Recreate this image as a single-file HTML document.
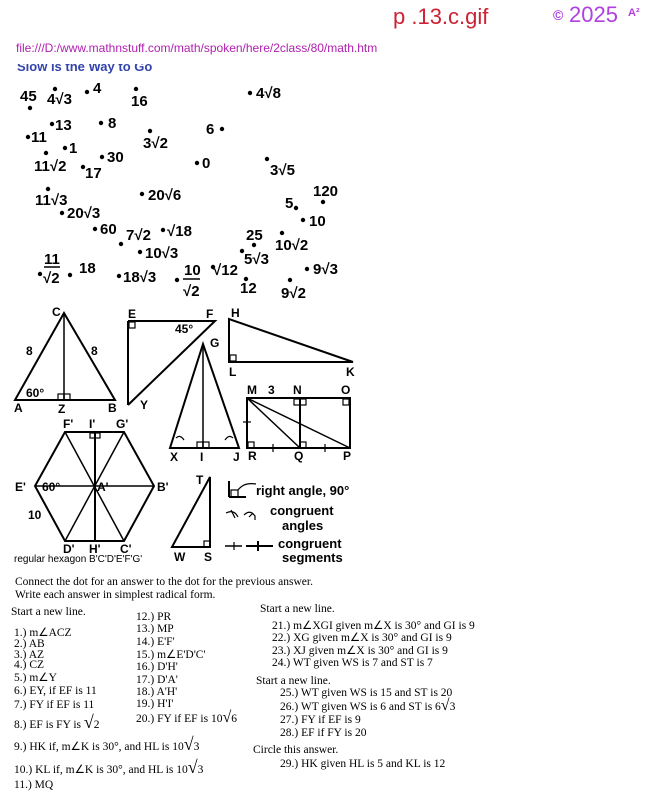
<!DOCTYPE html>
<html><head><meta charset="utf-8"><style>
html,body{margin:0;padding:0;background:#fff;width:650px;height:800px;overflow:hidden}
svg{display:block}
.d{font-family:"Liberation Sans",sans-serif;font-weight:bold;font-size:15px;fill:#000}
.s{font-family:"Liberation Serif",serif;font-size:11.5px;fill:#000;white-space:pre}
.g{font-family:"Liberation Sans",sans-serif;font-weight:bold;font-size:12px;fill:#000}
line,polyline,polygon,path,rect{stroke:#000;fill:none}
</style></head><body>
<svg width="650" height="800" viewBox="0 0 650 800">
<text x="393" y="24" font-family="Liberation Sans,sans-serif" font-size="22" fill="#cc2233">p .13.c.gif</text>
<text x="553" y="20" font-family="Liberation Sans,sans-serif" font-size="14" font-weight="bold" fill="#b040e0">©</text>
<text x="569" y="22" font-family="Liberation Sans,sans-serif" font-size="22" fill="#b040e0">2025</text>
<text x="628" y="16" font-family="Liberation Sans,sans-serif" font-size="11" font-weight="bold" fill="#b040e0">A²</text>
<text x="16" y="52" font-family="Liberation Sans,sans-serif" font-size="12" fill="#b020b0">file:///D:/www.mathnstuff.com/math/spoken/here/2class/80/math.htm</text>
<svg x="0" y="64" width="300" height="20" overflow="hidden"><text x="17" y="7" font-family="Liberation Sans,sans-serif" font-size="13" font-weight="bold" fill="#3344aa">Slow is the Way to Go</text></svg>

<g fill="#000">
<circle cx="30" cy="108" r="2.2"/><circle cx="55" cy="89" r="2.2"/><circle cx="87" cy="92" r="2.2"/><circle cx="136" cy="89" r="2.2"/><circle cx="250" cy="93" r="2.2"/>
<circle cx="52" cy="124" r="2.2"/><circle cx="101" cy="123" r="2.2"/><circle cx="28" cy="137" r="2.2"/><circle cx="150" cy="131" r="2.2"/><circle cx="222" cy="129" r="2.2"/>
<circle cx="65" cy="148" r="2.2"/><circle cx="46" cy="153" r="2.2"/><circle cx="102" cy="157" r="2.2"/><circle cx="83" cy="167" r="2.2"/><circle cx="197" cy="163" r="2.2"/><circle cx="267" cy="159" r="2.2"/>
<circle cx="142" cy="194" r="2.2"/><circle cx="323" cy="202" r="2.2"/><circle cx="48" cy="189" r="2.2"/><circle cx="296" cy="208" r="2.2"/><circle cx="62" cy="213" r="2.2"/><circle cx="303" cy="220" r="2.2"/>
<circle cx="95" cy="229" r="2.2"/><circle cx="121" cy="244" r="2.2"/><circle cx="163" cy="230" r="2.2"/><circle cx="254" cy="245" r="2.2"/><circle cx="282" cy="233" r="2.2"/><circle cx="140" cy="252" r="2.2"/><circle cx="242" cy="251" r="2.2"/>
<circle cx="40" cy="274" r="2.2"/><circle cx="70" cy="275" r="2.2"/><circle cx="119" cy="276" r="2.2"/><circle cx="177" cy="280" r="2.2"/><circle cx="213" cy="267" r="2.2"/><circle cx="246" cy="279" r="2.2"/><circle cx="307" cy="269" r="2.2"/><circle cx="290" cy="280" r="2.2"/>
</g>
<g class="d">
<text x="20" y="101">45</text><text x="47" y="104">4√3</text><text x="93" y="93">4</text><text x="131" y="106">16</text><text x="256" y="98">4√8</text>
<text x="55" y="130">13</text><text x="108" y="128">8</text><text x="31" y="142">11</text><text x="143" y="148">3√2</text><text x="206" y="134">6</text>
<text x="69" y="153">1</text><text x="34" y="171">11√2</text><text x="107" y="162">30</text><text x="85" y="178">17</text><text x="202" y="168">0</text><text x="270" y="175">3√5</text>
<text x="148" y="200">20√6</text><text x="313" y="196">120</text><text x="35" y="205">11√3</text><text x="285" y="208">5</text><text x="67" y="218">20√3</text><text x="309" y="226">10</text>
<text x="100" y="234">60</text><text x="126" y="240">7√2</text><text x="167" y="236">√18</text><text x="246" y="240">25</text><text x="275" y="250">10√2</text><text x="145" y="258">10√3</text><text x="244" y="264">5√3</text>
<text x="44" y="264">11</text><line x1="44" y1="267" x2="60" y2="267" stroke-width="1.5"/><text x="43" y="283">√2</text>
<text x="79" y="273">18</text><text x="123" y="282">18√3</text>
<text x="184" y="275">10</text><line x1="183" y1="279" x2="200" y2="279" stroke-width="1.5"/><text x="183" y="296">√2</text>
<text x="213" y="275">√12</text><text x="240" y="293">12</text><text x="313" y="274">9√3</text><text x="281" y="298">9√2</text>
</g>

<g stroke-width="2">
<polygon points="15,400 115,400 64,313"/><line x1="64" y1="313" x2="64" y2="400" stroke-width="1.5"/>
<polyline points="128,321 215,321 128,405"/><line x1="128" y1="321" x2="128" y2="405"/>
<polygon points="203,344 170,448 239,448"/><line x1="203" y1="344" x2="203" y2="448" stroke-width="1.5"/>
<polygon points="229,319 229,362 353,362"/>
<rect x="247" y="398" width="103" height="50"/><line x1="300" y1="398" x2="300" y2="448"/>
<line x1="247" y1="398" x2="300" y2="448" stroke-width="1.5"/><line x1="247" y1="398" x2="350" y2="448" stroke-width="1.5"/>
<polygon points="65,432 124,432 154,486 124,541 65,541 35,486"/>
<line x1="65" y1="432" x2="124" y2="541" stroke-width="1.5"/><line x1="124" y1="432" x2="65" y2="541" stroke-width="1.5"/><line x1="35" y1="486" x2="154" y2="486" stroke-width="1.5"/><line x1="95" y1="432" x2="95" y2="541"/>
<polygon points="210,477 210,547 172,547"/>
</g>
<g stroke-width="1.2">
<rect x="58" y="394" width="6" height="6"/><rect x="64" y="394" width="6" height="6"/>
<rect x="129" y="322" width="6" height="6"/><rect x="197" y="442" width="6" height="6"/><rect x="203" y="442" width="6" height="6"/>
<rect x="230" y="355" width="6" height="6"/><rect x="248" y="442" width="6" height="6"/><rect x="300" y="442" width="6" height="6"/><rect x="294" y="399" width="6" height="6"/><rect x="300" y="399" width="6" height="6"/><rect x="343" y="399" width="6" height="6"/>
<rect x="90" y="433" width="5" height="5"/><rect x="95" y="433" width="5" height="5"/><rect x="204" y="541" width="6" height="6"/>
<line x1="273" y1="444" x2="273" y2="452"/><line x1="325" y1="444" x2="325" y2="452"/><line x1="243" y1="422" x2="251" y2="422"/>
<path d="M176,438 q4,-4 8,2"/><path d="M225,440 q4,-6 8,-2"/>
<line x1="229" y1="481" x2="229" y2="497" stroke-width="2"/><line x1="229" y1="497" x2="246" y2="497" stroke-width="2"/><rect x="231" y="490" width="7" height="7"/><path d="M238,490 q6,-8 18,-6"/>
<path d="M226,513 q8,-4 12,4"/><line x1="231" y1="510" x2="235" y2="518"/><path d="M244,515 q6,-6 11,1 v4"/><line x1="249" y1="517" x2="253" y2="513"/>
<line x1="225" y1="546" x2="242" y2="546" stroke-width="1.5"/><line x1="234" y1="542" x2="234" y2="550"/><line x1="246" y1="546" x2="273" y2="546" stroke-width="2"/><line x1="258" y1="541" x2="258" y2="551" stroke-width="2"/>
</g>
<g class="g">
<text x="52" y="316">C</text><text x="26" y="355">8</text><text x="91" y="355">8</text><text x="26" y="397">60°</text><text x="14" y="412">A</text><text x="58" y="413">Z</text><text x="108" y="412">B</text>
<text x="128" y="318">E</text><text x="206" y="318">F</text><text x="175" y="333">45°</text><text x="140" y="409">Y</text>
<text x="210" y="347">G</text><text x="170" y="461">X</text><text x="200" y="461">I</text><text x="233" y="461">J</text>
<text x="231" y="317">H</text><text x="229" y="376">L</text><text x="346" y="376">K</text>
<text x="247" y="394">M</text><text x="268" y="394">3</text><text x="293" y="394">N</text><text x="341" y="394">O</text><text x="248" y="460">R</text><text x="294" y="460">Q</text><text x="343" y="460">P</text>
<text x="63" y="428">F'</text><text x="89" y="428">I'</text><text x="116" y="428">G'</text><text x="15" y="491">E'</text><text x="42" y="491">60°</text><text x="97" y="491">A'</text><text x="157" y="491">B'</text><text x="28" y="519">10</text>
<text x="63" y="553">D'</text><text x="89" y="553">H'</text><text x="120" y="553">C'</text>
<text x="196" y="484">T</text><text x="174" y="561">W</text><text x="204" y="561">S</text>
<text x="256" y="495" font-size="13">right angle, 90°</text><text x="270" y="515" font-size="13">congruent</text><text x="282" y="530" font-size="13">angles</text><text x="278" y="548" font-size="13">congruent</text><text x="282" y="562" font-size="13">segments</text>
</g>
<text x="14" y="562" font-family="Liberation Sans,sans-serif" font-size="10" fill="#000">regular hexagon B'C'D'E'F'G'</text>

<g class="s">
<text x="15" y="585">Connect the dot for an answer to the dot for the previous answer.</text>
<text x="15" y="598">Write each answer in simplest radical form.</text>
<text x="11" y="615">Start a new line.</text>
<text x="14" y="636">1.)  m∠ACZ</text><text x="14" y="647">2.)  AB</text><text x="14" y="658">3.)  AZ</text><text x="14" y="668">4.)  CZ</text><text x="14" y="681">5.)  m∠Y</text><text x="14" y="694">6.)  EY, if EF is 11</text><text x="14" y="708">7.)  FY if EF is 11</text>
<text x="14" y="728">8.)  EF is FY is <tspan font-weight="bold" font-size="18">√</tspan>2</text>
<text x="14" y="750">9.)  HK if, m∠K is 30°, and HL is 10<tspan font-weight="bold" font-size="18">√</tspan>3</text>
<text x="14" y="773">10.)  KL if, m∠K is 30°, and HL is 10<tspan font-weight="bold" font-size="18">√</tspan>3</text>
<text x="14" y="788">11.)  MQ</text>
<text x="136" y="620">12.)  PR</text><text x="136" y="632">13.)  MP</text><text x="136" y="645">14.)  E'F'</text><text x="136" y="658">15.)  m∠E'D'C'</text><text x="136" y="670">16.)  D'H'</text><text x="136" y="683">17.)  D'A'</text><text x="136" y="695">18.)  A'H'</text><text x="136" y="707">19.)  H'I'</text>
<text x="136" y="722">20.)  FY if EF is 10<tspan font-weight="bold" font-size="16">√</tspan>6</text>
<text x="260" y="612">Start a new line.</text>
<text x="272" y="629">21.)  m∠XGI given m∠X is 30° and GI is 9</text><text x="272" y="641">22.)  XG given m∠X is 30° and GI is 9</text><text x="272" y="654">23.)  XJ given m∠X is 30° and GI is 9</text><text x="272" y="666">24.)  WT given WS is 7 and ST is 7</text>
<text x="256" y="684">Start a new line.</text>
<text x="280" y="696">25.)  WT given WS is 15 and ST is 20</text><text x="280" y="710">26.)  WT given WS is 6 and ST is 6<tspan font-weight="bold" font-size="16">√</tspan>3</text><text x="280" y="723">27.)  FY if EF is 9</text><text x="280" y="736">28.)  EF if FY is 20</text>
<text x="253" y="753">Circle this answer.</text>
<text x="280" y="767">29.)  HK given HL is 5 and KL is 12</text>
</g>
</svg>
</body></html>
